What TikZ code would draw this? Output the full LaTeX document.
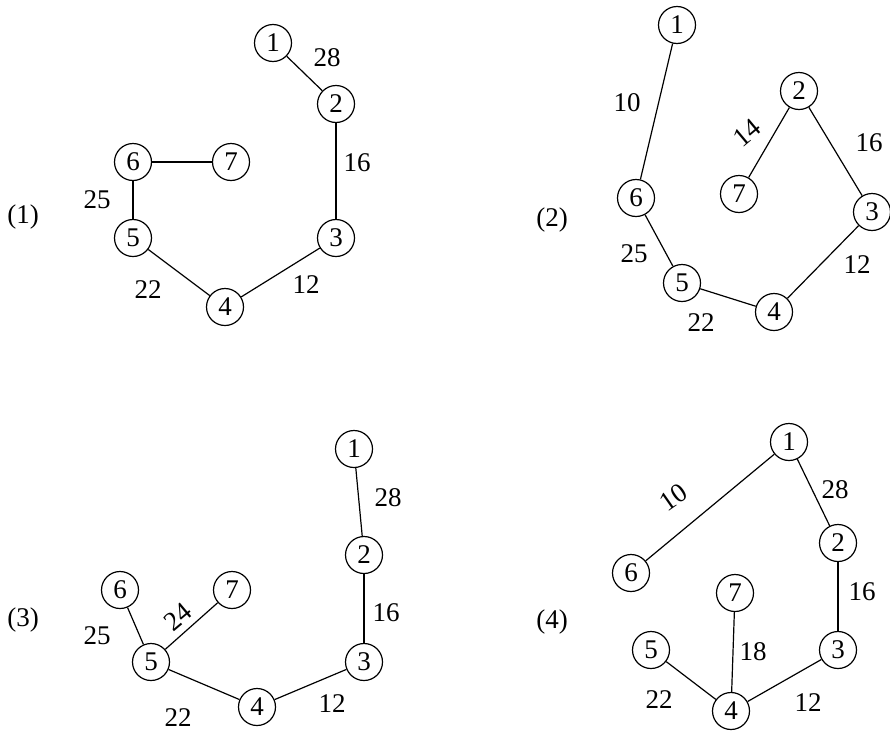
\documentclass[tikz,border=0pt]{standalone}
\usepackage{fontspec}
\setmainfont{Liberation Serif}
\begin{document}
\begin{tikzpicture}[x=1pt,y=-1pt,
  every node/.style={font=\fontsize{27}{30}\selectfont},
  vtx/.style={circle,draw,line width=1.2pt,minimum size=37pt,inner sep=0pt},
  lbl/.style={inner sep=0pt},
  edge/.style={line width=1.2pt}]
\useasboundingbox (0,0) rectangle (890,731);
% ---------- (1)
\node[lbl] (t1) at (23,217) {(1)};
\node[vtx] (a1) at (273,43) {1};
\node[vtx] (a2) at (336,104) {2};
\node[vtx] (a3) at (336,238) {3};
\node[vtx] (a4) at (225,307) {4};
\node[vtx] (a5) at (133,238) {5};
\node[vtx] (a6) at (133,162) {6};
\node[vtx] (a7) at (231,162) {7};
\draw[edge] (a1) -- (a2);
\draw[edge] (a2) -- (a3);
\draw[edge] (a3) -- (a4);
\draw[edge] (a4) -- (a5);
\draw[edge] (a5) -- (a6);
\draw[edge] (a6) -- (a7);
\node[lbl] (w12a) at (327,58) {28};
\node[lbl] (w23a) at (357,163) {16};
\node[lbl] (w56a) at (97,200) {25};
\node[lbl] (w45a) at (148,290) {22};
\node[lbl] (w34a) at (306,285) {12};
% ---------- (2)
\node[lbl] (t2) at (552,220) {(2)};
\node[vtx] (b1) at (677,25) {1};
\node[vtx] (b2) at (799,91) {2};
\node[vtx] (b3) at (872,212) {3};
\node[vtx] (b4) at (774,312) {4};
\node[vtx] (b5) at (682,283) {5};
\node[vtx] (b6) at (636,198) {6};
\node[vtx] (b7) at (739,194) {7};
\draw[edge] (b1) -- (b6);
\draw[edge] (b6) -- (b5);
\draw[edge] (b5) -- (b4);
\draw[edge] (b4) -- (b3);
\draw[edge] (b3) -- (b2);
\draw[edge] (b2) -- (b7);
\node[lbl] (w16b) at (627,103) {10};
\node[lbl,rotate=40] (w27b) at (747,133) {14};
\node[lbl] (w23b) at (869,143) {16};
\node[lbl] (w56b) at (634,254) {25};
\node[lbl] (w34b) at (857,265) {12};
\node[lbl] (w45b) at (701,323) {22};
% ---------- (3)
\node[lbl] (t3) at (23,620) {(3)};
\node[vtx] (c1) at (354,449) {1};
\node[vtx] (c2) at (364,555) {2};
\node[vtx] (c3) at (364,662) {3};
\node[vtx] (c4) at (257,707) {4};
\node[vtx] (c5) at (151,662) {5};
\node[vtx] (c6) at (120,590) {6};
\node[vtx] (c7) at (232,590) {7};
\draw[edge] (c1) -- (c2);
\draw[edge] (c2) -- (c3);
\draw[edge] (c3) -- (c4);
\draw[edge] (c4) -- (c5);
\draw[edge] (c5) -- (c6);
\draw[edge] (c5) -- (c7);
\node[lbl] (w12c) at (388,498) {28};
\node[lbl] (w23c) at (386,613) {16};
\node[lbl] (w56c) at (97,636) {25};
\node[lbl,rotate=40] (w57c) at (178,617) {24};
\node[lbl] (w45c) at (178,718) {22};
\node[lbl] (w34c) at (332,704) {12};
% ---------- (4)
\node[lbl] (t4) at (552,622) {(4)};
\node[vtx] (d1) at (789,442) {1};
\node[vtx] (d2) at (838,543) {2};
\node[vtx] (d3) at (838,650) {3};
\node[vtx] (d4) at (731,711) {4};
\node[vtx] (d5) at (651,650) {5};
\node[vtx] (d6) at (631,573) {6};
\node[vtx] (d7) at (735,593) {7};
\draw[edge] (d1) -- (d6);
\draw[edge] (d1) -- (d2);
\draw[edge] (d2) -- (d3);
\draw[edge] (d3) -- (d4);
\draw[edge] (d4) -- (d5);
\draw[edge] (d4) -- (d7);
\node[lbl,rotate=35] (w16d) at (673,497) {10};
\node[lbl] (w12d) at (835,490) {28};
\node[lbl] (w23d) at (862,592) {16};
\node[lbl] (w47d) at (753,652) {18};
\node[lbl] (w45d) at (659,700) {22};
\node[lbl] (w34d) at (808,703) {12};
\end{tikzpicture}
\end{document}
